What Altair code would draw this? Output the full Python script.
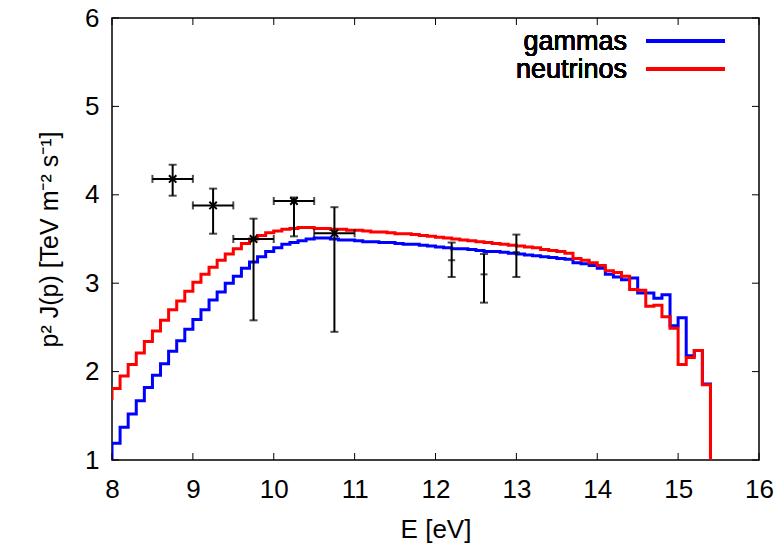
import altair as alt
import pandas as pd

# ---------------- data ----------------
bin_lo = [round(8.0 + 0.1 * i, 1) for i in range(74)]  # left edges of 0.1-wide bins, 8.0 .. 15.3
bin_end = 15.4

gammas = [1.19, 1.37, 1.52, 1.67, 1.82, 1.96, 2.09, 2.23, 2.35, 2.48,
          2.59, 2.70, 2.81, 2.90, 3.00, 3.08, 3.17, 3.24, 3.30, 3.36,
          3.40, 3.44, 3.46, 3.48, 3.50, 3.51, 3.51, 3.50, 3.49, 3.49,
          3.48, 3.47, 3.47, 3.46, 3.46, 3.45, 3.44, 3.44, 3.43, 3.42,
          3.41, 3.40, 3.39, 3.39, 3.38, 3.37, 3.36, 3.36, 3.35, 3.34,
          3.33, 3.32, 3.31, 3.30, 3.29, 3.28, 3.27, 3.23, 3.22, 3.20,
          3.17, 3.10, 3.07, 3.04, 3.06, 2.89, 2.89, 2.83, 2.87, 2.52,
          2.61, 2.18, 2.24, 1.86]
gammas_before = 1.0

neutrinos = [1.81, 1.95, 2.08, 2.21, 2.34, 2.46, 2.58, 2.70, 2.80, 2.91,
             3.01, 3.10, 3.18, 3.26, 3.33, 3.39, 3.45, 3.50, 3.54, 3.57,
             3.59, 3.61, 3.62, 3.63, 3.63, 3.62, 3.62, 3.61, 3.61, 3.60,
             3.60, 3.59, 3.58, 3.58, 3.57, 3.56, 3.56, 3.55, 3.54, 3.53,
             3.52, 3.51, 3.50, 3.49, 3.48, 3.47, 3.46, 3.45, 3.44, 3.43,
             3.42, 3.41, 3.40, 3.38, 3.37, 3.36, 3.34, 3.28, 3.26, 3.23,
             3.20, 3.14, 3.12, 3.08, 2.93, 2.92, 2.74, 2.75, 2.62, 2.49,
             2.08, 2.16, 2.24, 1.85]
neutrinos_before = 1.68
after_value = 1.0

# data points with x and y errors
pt_E = [8.75, 9.25, 9.75, 10.25, 10.75]
pt_E_lo = [8.5, 9.0, 9.5, 10.0, 10.5]
pt_E_hi = [9.0, 9.5, 10.0, 10.5, 11.0]
pt_v = [4.18, 3.88, 3.50, 3.93, 3.565]
pt_v_lo = [3.99, 3.56, 2.58, 3.53, 2.45]
pt_v_hi = [4.34, 4.07, 3.73, 3.97, 3.86]

# data points with y errors only
sp_E = [12.2, 12.6, 13.0]
sp_v = [3.26, 3.10, 3.35]
sp_v_lo = [3.07, 2.78, 3.07]
sp_v_hi = [3.46, 3.33, 3.55]

x_ticks = [8, 9, 10, 11, 12, 13, 14, 15, 16]
y_ticks = [1, 2, 3, 4, 5, 6]

# ---------------- build tables ----------------
def step_table(vals, before, name):
    xs_ = [bin_lo[0]] + bin_lo + [bin_end]
    ys_ = [before] + vals + [after_value]
    return pd.DataFrame({"E": xs_, "v": ys_, "i": list(range(len(xs_))), "s": name})

g_df = step_table(gammas, gammas_before, "gammas")
n_df = step_table(neutrinos, neutrinos_before, "neutrinos")
pts = pd.DataFrame({"E": pt_E, "Elo": pt_E_lo, "Ehi": pt_E_hi,
                    "v": pt_v, "vlo": pt_v_lo, "vhi": pt_v_hi})
sps = pd.DataFrame({"E": sp_E, "v": sp_v, "vlo": sp_v_lo, "vhi": sp_v_hi})
xt = pd.DataFrame({"t": x_ticks})
yt = pd.DataFrame({"t": y_ticks})

W, H = 647, 442
FONT = "Liberation Sans"
FS = 26

xs = alt.Scale(domain=[8, 16], nice=False, zero=False)
ys = alt.Scale(domain=[1, 6], nice=False, zero=False)

x_axis = alt.Axis(values=x_ticks, title="E [eV]", ticks=False, domain=False,
                  grid=False, labelPadding=16, titlePadding=14, format="d",
                  labelFont=FONT, titleFont=FONT, labelFontSize=FS, titleFontSize=FS,
                  labelColor="black", titleColor="black", titleFontWeight="normal",
                  labelFlush=False)
y_axis = alt.Axis(values=y_ticks, title="p² J(p) [TeV m⁻² s⁻¹]", ticks=False,
                  domain=False, grid=False, labelPadding=13, titlePadding=22, format="d",
                  labelFont=FONT, titleFont=FONT, labelFontSize=FS, titleFontSize=25,
                  labelColor="black", titleColor="black", titleFontWeight="normal",
                  labelFlush=False)


def X(f):
    return alt.X(f, scale=xs, axis=x_axis)


def Y(f):
    return alt.Y(f, scale=ys, axis=y_axis)


gam = alt.Chart(g_df).mark_line(interpolate="step-after", color="#0000ff",
                                strokeWidth=3, clip=True).encode(
    x=X("E:Q"), y=Y("v:Q"), order="i:Q")
neu = alt.Chart(n_df).mark_line(interpolate="step-after", color="#ff0000",
                                strokeWidth=3, clip=True).encode(
    x=X("E:Q"), y=Y("v:Q"), order="i:Q")

vbar = alt.Chart(pts).mark_rule(color="black", strokeWidth=2).encode(
    x=X("E:Q"), y=Y("vlo:Q"), y2="vhi:Q")
hbar = alt.Chart(pts).mark_rule(color="black", strokeWidth=2).encode(
    x=X("Elo:Q"), x2="Ehi:Q", y=Y("v:Q"))
cap_lo = alt.Chart(pts).mark_tick(color="black", orient="horizontal", size=8, thickness=2).encode(
    x=X("E:Q"), y=Y("vlo:Q"))
cap_hi = alt.Chart(pts).mark_tick(color="black", orient="horizontal", size=8, thickness=2).encode(
    x=X("E:Q"), y=Y("vhi:Q"))
cap_l = alt.Chart(pts).mark_tick(color="black", orient="vertical", size=8, thickness=2).encode(
    x=X("Elo:Q"), y=Y("v:Q"))
cap_r = alt.Chart(pts).mark_tick(color="black", orient="vertical", size=8, thickness=2).encode(
    x=X("Ehi:Q"), y=Y("v:Q"))
marks = alt.Chart(pts).mark_point(shape="M-1,-1L1,1M-1,1L1,-1", filled=False,
                                  color="black", strokeWidth=2, size=55, opacity=1).encode(
    x=X("E:Q"), y=Y("v:Q"))

svbar = alt.Chart(sps).mark_rule(color="black", strokeWidth=2).encode(
    x=X("E:Q"), y=Y("vlo:Q"), y2="vhi:Q")
s_lo = alt.Chart(sps).mark_tick(color="black", orient="horizontal", size=8, thickness=2).encode(
    x=X("E:Q"), y=Y("vlo:Q"))
s_hi = alt.Chart(sps).mark_tick(color="black", orient="horizontal", size=8, thickness=2).encode(
    x=X("E:Q"), y=Y("vhi:Q"))
s_mid = alt.Chart(sps).mark_tick(color="black", orient="horizontal", size=7, thickness=2).encode(
    x=X("E:Q"), y=Y("v:Q"))

# inward ticks on all four sides
TL = 7
tb = alt.Chart(xt).mark_rule(color="black", strokeWidth=1).encode(
    x=X("t:Q"), y=alt.value(H), y2=alt.value(H - TL))
tt = alt.Chart(xt).mark_rule(color="black", strokeWidth=1).encode(
    x=X("t:Q"), y=alt.value(0), y2=alt.value(TL))
tl = alt.Chart(yt).mark_rule(color="black", strokeWidth=1).encode(
    y=Y("t:Q"), x=alt.value(0), x2=alt.value(TL))
tr = alt.Chart(yt).mark_rule(color="black", strokeWidth=1).encode(
    y=Y("t:Q"), x=alt.value(W), x2=alt.value(W - TL))

# legend (top right, text left of line sample)
leg_g_txt = alt.Chart(xt).mark_text(text="gammas", align="right", baseline="middle",
                                    font=FONT, fontSize=27, fontWeight="normal",
                                    color="black").encode(
    x=alt.value(515), y=alt.value(24))
leg_g_line = alt.Chart(xt).mark_rule(color="#0000ff", strokeWidth=3).encode(
    x=alt.value(534), x2=alt.value(613), y=alt.value(23))
leg_n_txt = alt.Chart(xt).mark_text(text="neutrinos", align="right", baseline="middle",
                                    font=FONT, fontSize=27, fontWeight="normal",
                                    color="black").encode(
    x=alt.value(515), y=alt.value(52))
leg_n_line = alt.Chart(xt).mark_rule(color="#ff0000", strokeWidth=3).encode(
    x=alt.value(534), x2=alt.value(613), y=alt.value(51))

chart = alt.layer(
    gam, neu, vbar, hbar, cap_lo, cap_hi, cap_l, cap_r, marks,
    svbar, s_lo, s_hi, s_mid, tb, tt, tl, tr,
    leg_g_txt, leg_g_line, leg_n_txt, leg_n_line
).properties(
    width=W, height=H,
    background="white",
    autosize=alt.AutoSizeParams(type="none"),
    padding={"left": 112, "top": 18, "right": 24, "bottom": 91},
).configure_view(
    stroke="black", strokeWidth=1.5
)

chart.save("out.html", embed_options={"renderer": "svg", "actions": False})
